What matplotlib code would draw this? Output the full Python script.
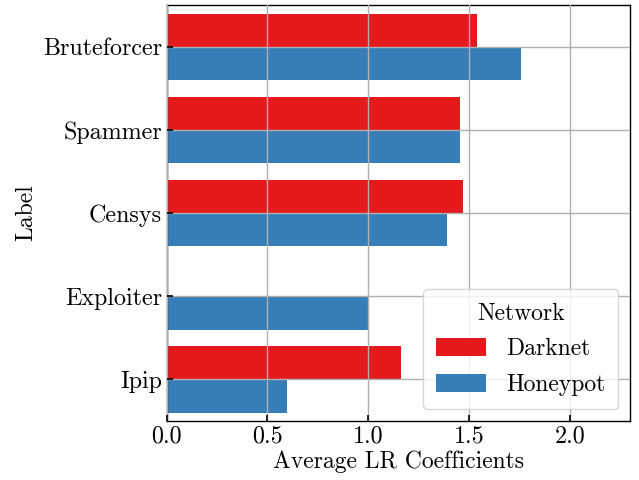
import matplotlib
matplotlib.use("Agg")
import matplotlib.pyplot as plt
import numpy as np

categories = ["Bruteforcer", "Spammer", "Censys", "Exploiter", "Ipip"]
darknet = [1.539, 1.454, 1.469, 0.0, 1.165]
honeypot = [1.758, 1.454, 1.389, 1.005, 0.598]
series_names = ["Darknet", "Honeypot"]
colors = ["#e41a1c", "#377eb8"]

plt.rcParams["font.family"] = ["cmr10", "DejaVu Serif"]
plt.rcParams["axes.formatter.use_mathtext"] = True
plt.rcParams["mathtext.fontset"] = "cm"

fig = plt.figure(figsize=(6.39, 4.8), dpi=100)
ax = fig.add_axes([0.261, 0.123, 0.725, 0.866])

y = np.arange(len(categories))
h = 0.4
ax.barh(y - h / 2, darknet, height=h, color=colors[0], label=series_names[0], zorder=1)
ax.barh(y + h / 2, honeypot, height=h, color=colors[1], label=series_names[1], zorder=1)

fs = 17.3
ax.set_yticks(y)
ax.set_yticklabels(categories)
ax.set_ylim(len(categories) - 0.5, -0.5)
ax.set_xlim(0, 2.3)
ax.set_xticks([0.0, 0.5, 1.0, 1.5, 2.0])
ax.set_xticklabels(["0.0", "0.5", "1.0", "1.5", "2.0"])
ax.grid(True, color="#b0b0b0", linewidth=1.0, zorder=2)
ax.set_axisbelow(False)
ax.tick_params(direction="in", labelsize=fs, length=4, width=1.2)
for s in ax.spines.values():
    s.set_color("black")
    s.set_linewidth(1.0)

ax.set_xlabel("Average LR Coefficients", fontsize=17, labelpad=2)
ax.set_ylabel("Label", fontsize=17)

leg = ax.legend(title="Network", loc="lower right", fontsize=17, title_fontsize=17,
                handlelength=2.1, handleheight=0.75, borderpad=0.55, labelspacing=0.58,
                handletextpad=0.85)
leg.get_frame().set_edgecolor("#cccccc")

fig.savefig("out.png", dpi=100)
